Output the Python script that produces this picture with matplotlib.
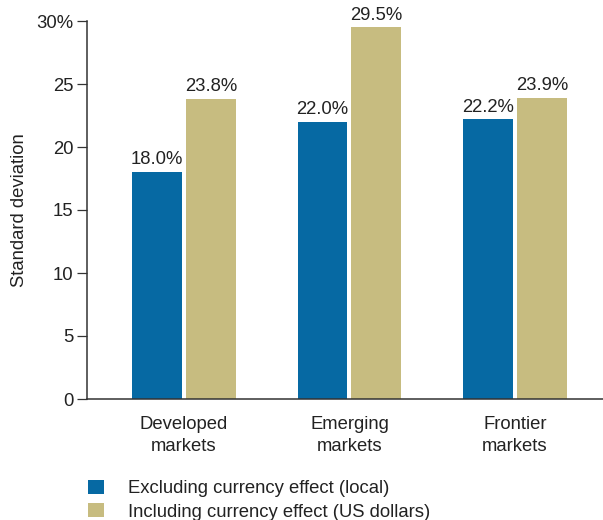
import matplotlib.pyplot as plt
import numpy as np

plt.rcParams["font.family"] = ["Liberation Sans", "DejaVu Sans"]

categories = ["Developed\nmarkets", "Emerging\nmarkets", "Frontier\nmarkets"]
series_names = ["Excluding currency effect (local)", "Including currency effect (US dollars)"]
local_vals = [18.0, 22.0, 22.2]
usd_vals = [23.8, 29.5, 23.9]
yticks = [0, 5, 10, 15, 20, 25, 30]
ytick_labels = ["0", "5", "10", "15", "20", "25", "30%"]

BLUE = "#0669A3"
TAN = "#C7BC80"
TEXT = "#222222"
AXIS = "#333333"
FS = 13.3

fig = plt.figure(figsize=(6.03, 5.2), dpi=100)
ax = fig.add_axes([87 / 603, 121 / 520, 516 / 603, 378 / 520])

x = np.arange(len(categories))
w = 0.302
off = 0.163
b1 = ax.bar(x - off, local_vals, w, color=BLUE)
b2 = ax.bar(x + off, usd_vals, w, color=TAN)

for bars, vals in ((b1, local_vals), (b2, usd_vals)):
    for r, v in zip(bars, vals):
        ax.text(r.get_x() + r.get_width() / 2, v + 0.3, f"{v:.1f}%",
                ha="center", va="bottom", fontsize=FS, color=TEXT)

ax.set_xlim(-0.586, 2.532)
ax.set_ylim(0, 30)
ax.set_yticks(yticks)
ax.set_yticklabels(ytick_labels, fontsize=FS, color=TEXT)
ax.set_xticks(x)
ax.set_xticklabels(categories, fontsize=FS, color=TEXT, linespacing=1.4)
ax.tick_params(axis="y", length=7.2, width=0.9, color=AXIS, pad=2.5)
ax.tick_params(axis="x", length=0, pad=12)
ax.set_ylabel("Standard deviation", fontsize=FS, color=TEXT, labelpad=6)

for s in ("top", "right"):
    ax.spines[s].set_visible(False)
for s in ("left", "bottom"):
    ax.spines[s].set_color(AXIS)
    ax.spines[s].set_linewidth(1.1)

fig.legend([b1, b2], series_names, loc="upper left",
           bbox_to_anchor=(88 / 603, 1 - 480 / 520), frameon=False,
           fontsize=FS, handlelength=0.85, handleheight=0.8,
           handletextpad=1.3, labelspacing=0.3, borderpad=0,
           borderaxespad=0, labelcolor=TEXT)

fig.savefig("out.png", dpi=100)
